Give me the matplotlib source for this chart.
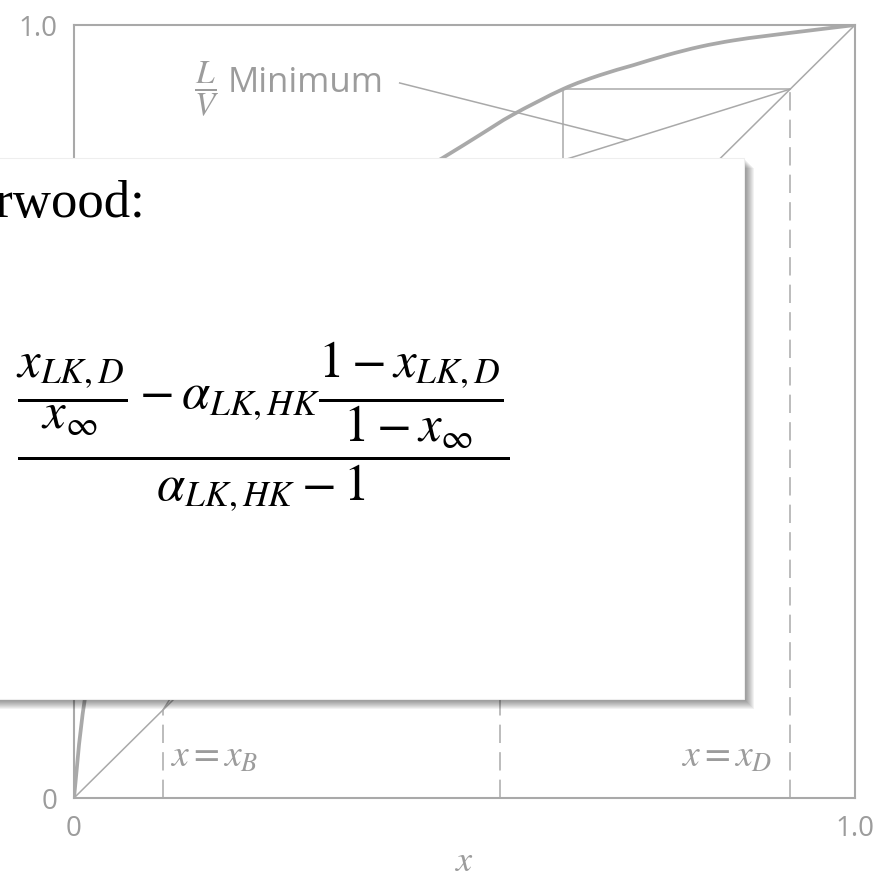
import matplotlib
matplotlib.use("Agg")
import matplotlib.pyplot as plt
from matplotlib.patches import Rectangle, PathPatch
from matplotlib.path import Path

plt.rcParams["font.family"] = ["Open Sans", "DejaVu Sans"]
plt.rcParams["mathtext.fontset"] = "stix"

W, H = 893, 880
GRAY_LINE = "#a9a9a9"
GRAY_TEXT = "#9c9c9c"

# equilibrium curve (y vs x)
x_eq = [0.0, 0.014, 0.05, 0.10, 0.20, 0.30, 0.40, 0.472, 0.520, 0.562, 0.626,
        0.673, 0.716, 0.759, 0.802, 0.844, 0.887, 0.951, 1.0]
y_eq = [0.0, 0.129, 0.33, 0.48, 0.63, 0.72, 0.785, 0.828, 0.858, 0.884, 0.917,
        0.935, 0.948, 0.961, 0.972, 0.980, 0.986, 0.994, 1.0]

# compositions
x_B = 0.114
x_F = 0.545
x_D = 0.917
LV_min = 0.316          # slope of the rectifying line at minimum reflux
x_step = 0.626          # first step off the top
leader_start = (0.417, 0.925)
leader_end_x = 0.708

tick_labels = ["0", "1.0"]


def px(x, y):
    return x / W, 1 - y / H


def smooth_path(xs, ys):
    # cubic Bezier segments passing through every point
    pts = list(zip(xs, ys))
    n = len(pts)
    verts = [pts[0]]
    codes = [Path.MOVETO]
    for i in range(n - 1):
        p0 = pts[max(i - 1, 0)]
        p1 = pts[i]
        p2 = pts[i + 1]
        p3 = pts[min(i + 2, n - 1)]
        c1 = (p1[0] + (p2[0] - p0[0]) / 6, p1[1] + (p2[1] - p0[1]) / 6)
        c2 = (p2[0] - (p3[0] - p1[0]) / 6, p2[1] - (p3[1] - p1[1]) / 6)
        verts += [c1, c2, p2]
        codes += [Path.CURVE4] * 3
    return Path(verts, codes)


fig = plt.figure(figsize=(W / 100, H / 100), dpi=100)
ax = fig.add_axes([74 / W, 1 - 798 / H, 781 / W, 773 / H])
ax.set_xlim(0, 1)
ax.set_ylim(0, 1)
for s in ax.spines.values():
    s.set_color(GRAY_LINE)
    s.set_linewidth(1.5)

ax.set_xticks([0, 1], tick_labels)
ax.set_yticks([0, 1], tick_labels)
ax.tick_params(length=0, labelsize=20, labelcolor=GRAY_TEXT)
ax.tick_params(axis="x", pad=12)
ax.tick_params(axis="y", pad=12)
ax.set_xlabel("$x$", fontsize=26, color=GRAY_TEXT, labelpad=1)

# equilibrium curve and diagonal
ax.add_patch(PathPatch(smooth_path(x_eq, y_eq), facecolor="none",
                       edgecolor=GRAY_LINE, lw=2.7, capstyle="round"))
ax.plot([0, 1], [0, 1], color=GRAY_LINE, lw=1.1)

# operating lines at minimum reflux
y_pinch = x_D - LV_min * (x_D - x_F)
ax.plot([x_F, x_D], [y_pinch, x_D], color=GRAY_LINE, lw=1.1)
ax.plot([x_B, x_F], [x_B, y_pinch], color=GRAY_LINE, lw=1.1)

# first step
y_step = x_D - LV_min * (x_D - x_step)
ax.plot([x_step, x_D], [x_D, x_D], color=GRAY_LINE, lw=1.1)
ax.plot([x_step, x_step], [x_D, y_step], color=GRAY_LINE, lw=1.1)

# composition markers
dash = dict(color=GRAY_LINE, lw=1.1, linestyle=(0, (12, 6)))
ax.plot([x_B, x_B], [0, x_B], **dash)
ax.plot([x_F, x_F], [0, y_pinch], **dash)
ax.plot([x_D, x_D], [0, x_D], **dash)

ax.text(0.123, 0.053, "$x = x_B$", fontsize=27, color=GRAY_TEXT,
        ha="left", va="center")
ax.text(0.894, 0.053, "$x = x_D$", fontsize=27, color=GRAY_TEXT,
        ha="right", va="center")

# minimum L/V label with leader
leader_end_y = x_D - LV_min * (x_D - leader_end_x)
ax.plot([leader_start[0], leader_end_x], [leader_start[1], leader_end_y],
        color=GRAY_LINE, lw=1.1)
ax.text(0.170, 0.918, r"$\dfrac{L}{V}$", fontsize=24, color=GRAY_TEXT,
        ha="center", va="center")
ax.text(0.197, 0.925, "Minimum", fontsize=25, color=GRAY_TEXT,
        ha="left", va="center")

# white card with drop shadow
bx0, by0, bx1, by1 = -40, 158, 744, 699
for i in range(1, 11):
    fx, fy = px(bx0 + i, by1 + i)
    fig.add_artist(Rectangle((fx, fy), (bx1 - bx0) / W, (by1 - by0) / H,
                             transform=fig.transFigure, facecolor="black",
                             edgecolor="none", alpha=0.05, zorder=4))
fx, fy = px(bx0, by1)
fig.add_artist(Rectangle((fx, fy), (bx1 - bx0) / W, (by1 - by0) / H,
                         transform=fig.transFigure, facecolor="white",
                         edgecolor="#eeeeee", lw=0.8, zorder=5))

fig.text(*px(146, 217), "Underwood:", fontsize=38, color="black",
         family="Liberation Serif", ha="right", va="baseline", zorder=6)

eq = (r"$=\ \dfrac{\dfrac{x_{LK,D}}{x_{\infty}} - \alpha_{LK,HK}"
      r"\dfrac{1 - x_{LK,D}}{1 - x_{\infty}}}{\alpha_{LK,HK} - 1}$")
fig.text(*px(-44, 427), eq, fontsize=36.5, color="black", ha="left",
         va="center", zorder=6)

fig.savefig("out.png", dpi=100)
